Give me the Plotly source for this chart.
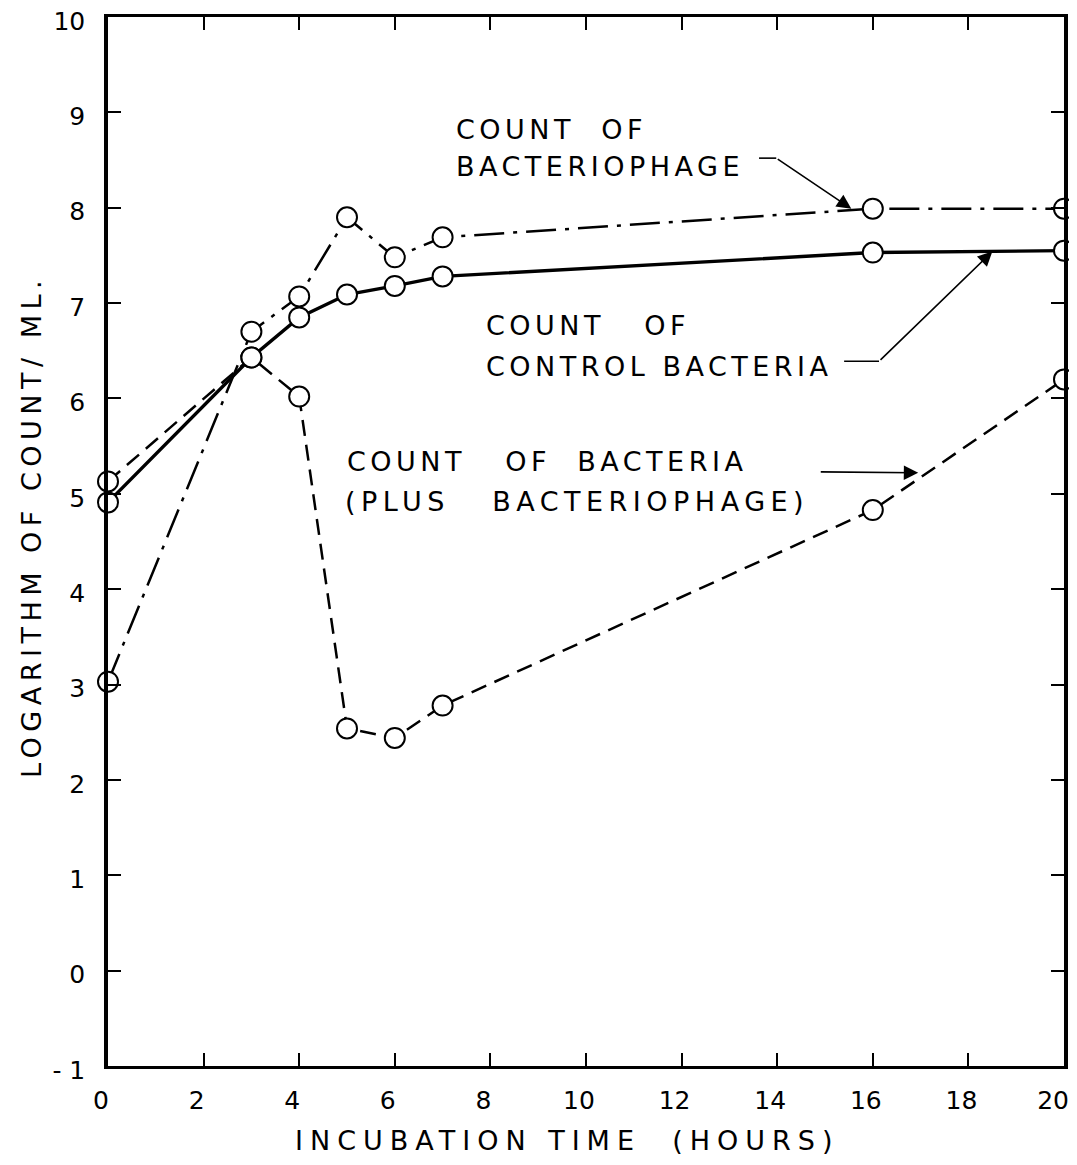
import plotly.graph_objects as go

# ---- data ----
hours_phage = [0, 3, 4, 5, 6, 7, 16, 20]
log_phage = [3.03, 6.70, 7.07, 7.90, 7.48, 7.69, 7.99, 7.99]

hours_control = [0, 3, 4, 5, 6, 7, 16, 20]
log_control = [4.91, 6.43, 6.85, 7.09, 7.18, 7.28, 7.53, 7.55]

hours_plus = [0, 3, 4, 5, 6, 7, 16, 20]
log_plus = [5.13, 6.43, 6.02, 2.54, 2.44, 2.78, 4.83, 6.20]

x_ticks = [0, 2, 4, 6, 8, 10, 12, 14, 16, 18, 20]
x_tick_text = ["0", "2", "4", "6", "8", "10", "12", "14", "16", "18", "20&nbsp;"]
y_ticks = [-1, 0, 1, 2, 3, 4, 5, 6, 7, 8, 9, 10]
y_tick_text = ["- 1", "0", "1", "2", "3", "4", "5", "6", "7", "8", "9", "10"]

FONT = "DejaVu Sans"


def sp(text, ls):
    return f'<span style="letter-spacing:{ls}px">{text}</span>'


marker = dict(symbol="circle", size=20, color="white", line=dict(color="black", width=2))

fig = go.Figure()
fig.add_trace(go.Scatter(x=hours_plus, y=log_plus, mode="lines+markers",
                         line=dict(color="black", width=2.5, dash="16px,9px"),
                         marker=marker, name="plus phage", cliponaxis=False))
fig.add_trace(go.Scatter(x=hours_phage, y=log_phage, mode="lines+markers",
                         line=dict(color="black", width=2.5, dash="30px,9px,4px,9px"),
                         marker=marker, name="phage", cliponaxis=False))
fig.add_trace(go.Scatter(x=hours_control, y=log_control, mode="lines+markers",
                         line=dict(color="black", width=3.4),
                         marker=marker, name="control", cliponaxis=False))

ann = []
lab_font = dict(family=FONT, size=27, color="black")


def label(x, y, text, ls=4.5):
    ann.append(dict(x=x, y=y, xref="x", yref="y", text=sp(text, ls), showarrow=False,
                    xanchor="left", yanchor="middle", font=lab_font))


label(7.24, 8.82, "COUNT&nbsp;&nbsp;OF")
label(7.24, 8.43, "BACTERIOPHAGE")
label(7.87, 6.76, "COUNT&nbsp;&nbsp;&nbsp;OF")
label(7.87, 6.34, "CONTROL BACTERIA")
label(4.95, 5.34, "COUNT&nbsp;&nbsp;&nbsp;OF&nbsp;&nbsp;BACTERIA")
label(4.91, 4.92, "(PLUS&nbsp;&nbsp;&nbsp;BACTERIOPHAGE)", ls=5.5)

# arrows (diagonal / horizontal parts with heads)
arrow_style = dict(showarrow=True, arrowhead=2, arrowsize=1.8, arrowwidth=1.6,
                   arrowcolor="black", xref="x", yref="y", axref="x", ayref="y", text="")
ann.append(dict(x=15.55, y=7.99, ax=13.98, ay=8.52, **arrow_style))
ann.append(dict(x=18.5, y=7.54, ax=16.13, ay=6.39, **arrow_style))
ann.append(dict(x=16.95, y=5.22, ax=14.88, ay=5.23, **arrow_style))

shapes = [
    dict(type="line", xref="x", yref="y", x0=13.62, y0=8.52, x1=13.98, y1=8.52,
         line=dict(color="black", width=1.6)),
    dict(type="line", xref="x", yref="y", x0=15.40, y0=6.39, x1=16.13, y1=6.39,
         line=dict(color="black", width=1.6)),
]

# page body has an 8px margin: work in figure pixels = viewport pixels - 8
OFF = 8
W, H = 1077 - OFF, 1165 - 2 * OFF
L, T = 108 - OFF, 17 - OFF
R = W - (1064 - OFF)
B = H - (1066 - OFF)
pw, ph = W - L - R, H - T - B

# axis titles (positions given in viewport pixels)
titles = [
    dict(px=31, py=527, text=sp("LOGARITHM OF COUNT/ ML.", 5.5), textangle=-90),
    dict(px=567, py=1140, text=sp("INCUBATION&nbsp;TIME&nbsp;&nbsp;(HOURS)", 7), textangle=0),
]
for t in titles:
    ann.append(dict(x=(t["px"] - OFF - L) / pw, y=1 - (t["py"] - OFF - T) / ph,
                    xref="paper", yref="paper", text=t["text"], showarrow=False,
                    xanchor="center", yanchor="middle",
                    textangle=t["textangle"], font=dict(family=FONT, size=27, color="black")))

fig.update_layout(
    width=W, height=H,
    margin=dict(l=L, r=R, t=T, b=B, autoexpand=False),
    paper_bgcolor="white", plot_bgcolor="white",
    showlegend=False,
    annotations=ann, shapes=shapes,
    font=dict(family=FONT, color="black"),
)
fig.update_xaxes(range=[0, 20], tickvals=x_ticks, ticktext=x_tick_text,
                 ticks="inside", ticklen=13, tickwidth=2, tickcolor="black",
                 showline=True, linecolor="black", linewidth=3, mirror="ticks",
                 showgrid=False, zeroline=False, ticklabelstandoff=10, ticklabelshift=-7,
                 automargin=False, ticklabeloverflow="allow",
                 tickfont=dict(family=FONT, size=25, color="black"))
fig.update_yaxes(range=[-1, 10], tickvals=y_ticks, ticktext=y_tick_text,
                 ticks="inside", ticklen=13, tickwidth=2, tickcolor="black",
                 showline=True, linecolor="black", linewidth=3.5, mirror="ticks",
                 showgrid=False, zeroline=False, ticklabelstandoff=14, ticklabelshift=4,
                 automargin=False, ticklabeloverflow="allow",
                 tickfont=dict(family=FONT, size=25, color="black"))

fig.write_html("out.html",
               post_script="document.documentElement.style.overflow='hidden';")
